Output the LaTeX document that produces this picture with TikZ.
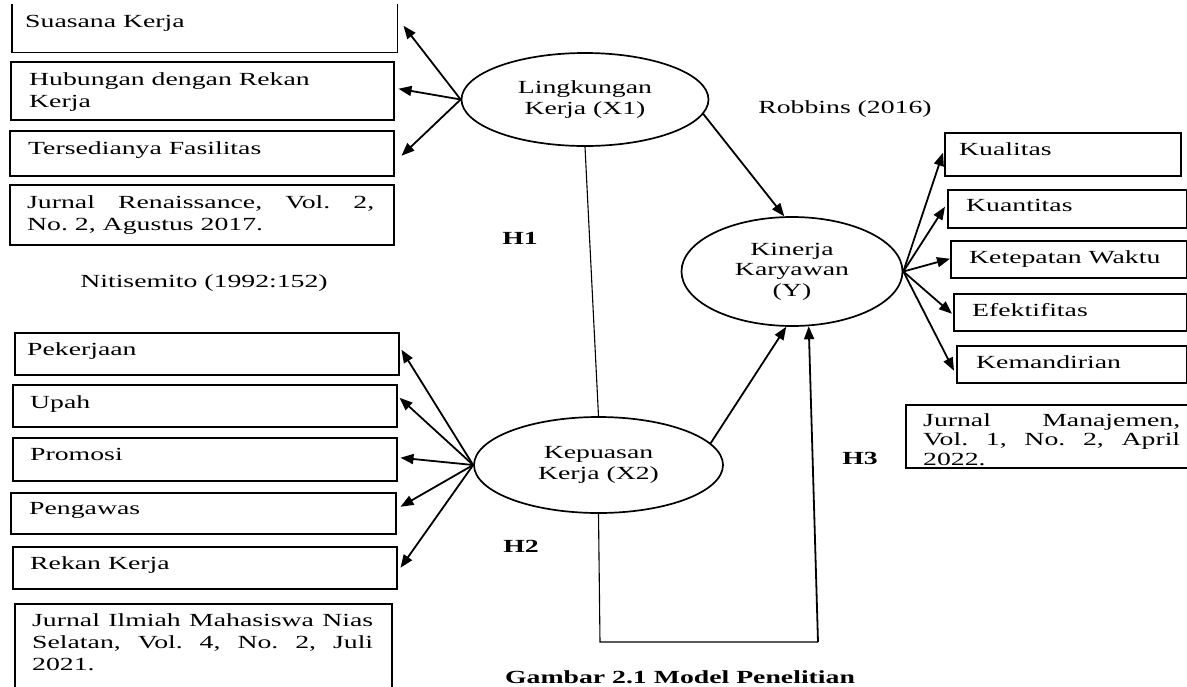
\documentclass[tikz,border=0pt]{standalone}
\usepackage{fontspec}
\setmainfont{Liberation Serif}[FakeStretch=1.5]
\usetikzlibrary{arrows.meta,shapes.geometric,calc}
\begin{document}
\frenchspacing
\begin{tikzpicture}[x=1pt,y=-1pt,
  font=\fontsize{18.5}{22}\selectfont,
  bx/.style={draw, line width=1.5pt, anchor=north west, inner sep=0pt},
  tx/.style={anchor=north west, inner sep=0pt, align=left},
  jt/.style={anchor=north west, inner sep=0pt, align=justify},
  el/.style={ellipse, draw, line width=1.7pt, align=center, inner sep=0pt,
             font=\fontsize{18.5}{20.5}\selectfont},
  ar/.style={line width=1.8pt, -{Triangle[length=13pt,width=10pt]}},
  thin/.style={line width=1.1pt},
  hl/.style={anchor=base, font=\fontsize{18.5}{22}\selectfont\bfseries}
]
\path[use as bounding box] (0,0) rectangle (1187,686);
\clip (0,0) rectangle (1187,686);

% ---------- left upper boxes ----------
\node[bx, draw=none, minimum width=384pt, minimum height=47pt] (s1) at (12,4) {};
\draw[line width=1.5pt] (s1.north west) -- (s1.south west) -- (s1.south east) -- (s1.north east);
\node[tx] (ts1) at (25,15) {Suasana Kerja};
\node[bx, minimum width=383pt, minimum height=58pt] (s2) at (10,61) {};
\node[tx] (ts2) at (29,72) {Hubungan dengan Rekan\\Kerja};
\node[bx, minimum width=384pt, minimum height=45pt] (s3) at (9,130) {};
\node[tx] (ts3) at (28,141) {Tersedianya Fasilitas};
\node[bx, minimum width=384pt, minimum height=60pt] (s4) at (9,184) {};
\node[jt, text width=347pt] (ts4) at (27,195) {Jurnal Renaissance, Vol. 2,\linebreak No. 2, Agustus 2017.};
\node[anchor=base] (nit) at (204,287) {Nitisemito (1992:152)};

% ---------- left lower boxes ----------
\node[bx, minimum width=384pt, minimum height=42pt] (p1) at (14,332) {};
\node[tx] (tp1) at (27,342.5) {Pekerjaan};
\node[bx, minimum width=384pt, minimum height=42pt] (p2) at (12,384) {};
\node[tx] (tp2) at (30,395) {Upah};
\node[bx, minimum width=384pt, minimum height=43pt] (p3) at (12,437) {};
\node[tx] (tp3) at (30,448) {Promosi};
\node[bx, minimum width=385pt, minimum height=41pt] (p4) at (10,492) {};
\node[tx] (tp4) at (29,502.5) {Pengawas};
\node[bx, minimum width=384pt, minimum height=42pt] (p5) at (12,546) {};
\node[tx] (tp5) at (30,556.5) {Rekan Kerja};
\node[bx, minimum width=377pt, minimum height=110pt] (p6) at (14,603) {};
\node[jt, text width=341pt] (tp6) at (32,613.5) {Jurnal Ilmiah Mahasiswa Nias\linebreak Selatan, Vol. 4, No. 2, Juli\linebreak 2021.};

% ---------- right boxes ----------
\node[bx, minimum width=236pt, minimum height=43pt] (k1) at (944,132) {};
\node[tx] (tk1) at (959,142.5) {Kualitas};
\node[bx, minimum width=239pt, minimum height=38pt] (k2) at (947,189) {};
\node[tx] (tk2) at (966,199.5) {Kuantitas};
\node[bx, minimum width=236pt, minimum height=37pt] (k3) at (950,240) {};
\node[tx] (tk3) at (969,250.5) {Ketepatan Waktu};
\node[bx, minimum width=233pt, minimum height=37pt] (k4) at (953,293) {};
\node[tx] (tk4) at (972,303.5) {Efektifitas};
\node[bx, minimum width=230pt, minimum height=37pt] (k5) at (956,345) {};
\node[tx] (tk5) at (976,355.5) {Kemandirian};
\node[bx, minimum width=300pt, minimum height=63pt] (k6) at (905,404) {};
\node[jt, text width=257pt, font=\fontsize{18.5}{19.5}\selectfont] (tk6) at (923,413) {Jurnal Manajemen,\linebreak Vol. 1, No. 2, April\linebreak 2022.};

% ---------- ellipses ----------
\node[el, minimum width=247pt, minimum height=93pt] (Lk) at (585,99.5) {Lingkungan\\Kerja (X1)};
\node[el, minimum width=221pt, minimum height=109pt] (Kn) at (792,271.5) {Kinerja\\Karyawan\\(Y)};
\node[el, minimum width=249pt, minimum height=96pt] (Kp) at (598.5,465) {Kepuasan\\Kerja (X2)};

% ---------- labels ----------
\node[anchor=base] (rob) at (845,113) {Robbins (2016)};
\node[hl] (h1) at (520,244) {H1};
\node[hl] (h2) at (521,552) {H2};
\node[hl] (h3) at (860,464) {H3};
\node[hl] (cap) at (680,683) {Gambar 2.1 Model Penelitian};

% ---------- connectors ----------
\draw[ar] (Lk.west) -- ($(s1.east)+(6,-2.5)$);
\draw[ar] (Lk.west) -- ($(s2.east)+(4,-2)$);
\draw[ar] (Lk.west) -- ($(s3.east)+(7,2.5)$);

\draw[ar] (Kp.west) -- ($(p1.east)+(2,-4)$);
\draw[ar] (Kp.west) -- ($(p2.east)+(2,-8)$);
\draw[ar] (Kp.west) -- ($(p3.east)+(3,-1.5)$);
\draw[ar] (Kp.west) -- ($(p4.east)+(4,-6.5)$);
\draw[ar] (Kp.west) -- ($(p5.east)+(3,0)$);

\draw[ar] (Kn.east) -- ($(k1.west)+(-1,-1.5)$);
\draw[ar] (Kn.east) -- ($(k2.west)+(-2,-2)$);
\draw[ar] (Kn.east) -- ($(k3.west)+(0,-0.5)$);
\draw[ar] (Kn.east) -- ($(k4.west)+(-1,1.5)$);
\draw[ar] (Kn.east) -- ($(k5.west)+(-2,6.5)$);

\draw[thin] (Lk.south) -- (Kp.north);
\draw[ar] (Lk.-7) -- (Kn.98);
\draw[ar] (Kp.11) -- (Kn.-96);
\coordinate (c1) at (600,642);
\coordinate (c2) at (818,642);
\draw[thin] (Kp.south) -- (c1) -- (c2);
\draw[ar] (c2) -- (Kn.-73);
\end{tikzpicture}
\end{document}
